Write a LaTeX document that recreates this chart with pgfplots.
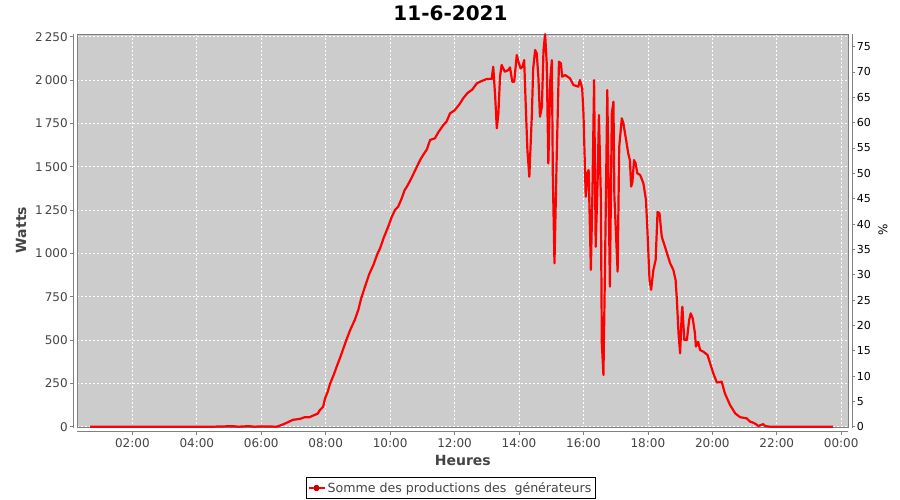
\documentclass[border=0pt]{standalone}
\usepackage{fontspec}
\setmainfont{DejaVu Sans}
\usepackage{pgfplots}
\usepackage{pgfplotstable}
\pgfplotsset{compat=1.18}
\definecolor{plotbg}{HTML}{CCCCCC}
\definecolor{axgray}{HTML}{808080}
\definecolor{lblgray}{HTML}{444444}

\pgfplotstableread{
t w
0.69 0
1.5 0
2.5 0
3.5 0
4.5 0
5.1 3
5.3 0
5.6 3
5.8 0
6.0 2
6.48 0
6.7 15
6.99 40
7.2 45
7.35 55
7.5 55
7.62 65
7.75 75
7.82 96
7.92 115
7.98 164
8.06 200
8.13 245
8.25 300
8.34 346
8.45 400
8.55 452
8.65 505
8.76 558
8.9 615
9.01 673
9.1 740
9.22 808
9.35 880
9.48 933
9.6 995
9.69 1030
9.8 1090
9.94 1154
10.05 1210
10.15 1250
10.25 1270
10.36 1318
10.45 1365
10.52 1385
10.65 1430
10.83 1500
10.95 1545
11.05 1575
11.14 1600
11.24 1654
11.39 1664
11.5 1700
11.65 1740
11.75 1760
11.86 1808
12.0 1825
12.15 1860
12.27 1895
12.4 1925
12.55 1945
12.69 1981
12.85 1995
13.0 2006
13.15 2006
13.2 2077
13.26 1904
13.31 1721
13.36 1808
13.41 2019
13.46 2087
13.56 2048
13.67 2058
13.72 2073
13.79 1990
13.85 1990
13.93 2144
13.98 2106
14.05 2067
14.11 2077
14.16 2115
14.21 1846
14.26 1596
14.32 1442
14.40 1808
14.44 2067
14.50 2173
14.55 2154
14.60 2019
14.65 1788
14.71 1846
14.76 2173
14.81 2265
14.86 2096
14.91 1519
14.97 2000
15.02 2115
15.05 1442
15.10 943
15.17 1558
15.24 2106
15.30 2096
15.34 2019
15.43 2029
15.58 2010
15.69 1971
15.84 1962
15.89 2000
15.96 1952
16.00 1808
16.07 1327
16.12 1462
16.16 1481
16.23 904
16.28 1365
16.33 2000
16.38 1038
16.44 1423
16.48 1798
16.54 1327
16.57 481
16.62 298
16.67 943
16.74 1942
16.82 808
16.88 1808
16.93 1875
16.96 1327
17.06 894
17.11 1615
17.19 1779
17.24 1750
17.34 1635
17.39 1577
17.44 1538
17.48 1385
17.52 1413
17.57 1538
17.62 1519
17.67 1462
17.76 1452
17.86 1404
17.94 1308
17.98 1154
18.05 850
18.10 790
18.17 904
18.24 962
18.30 1240
18.36 1231
18.43 1096
18.53 1038
18.69 943
18.79 904
18.86 846
18.90 731
18.95 539
19.00 423
19.05 654
19.07 692
19.13 500
19.21 500
19.28 615
19.33 654
19.39 625
19.46 539
19.49 462
19.56 490
19.62 442
19.72 433
19.85 414
19.93 366
20.03 308
20.14 255
20.29 260
20.39 192
20.55 125
20.71 77
20.86 55
21.07 48
21.17 29
21.27 23
21.35 15
21.43 4
21.58 15
21.64 4
21.79 0
22.5 0
23.0 0
23.75 0
}\prodtable

\begin{document}
\begin{tikzpicture}[x=1pt,y=1pt]
\path[use as bounding box] (0,0) rectangle (900,500);
\node[font=\bfseries\fontsize{20}{24}\selectfont] at (450.5,487) {11-6-2021};
\node[font=\bfseries\fontsize{14}{16}\selectfont, text=lblgray] at (462.8,40) {Heures};
\node[rotate=90, font=\bfseries\fontsize{14}{16}\selectfont, text=lblgray] at (21,270) {Watts};
\node[rotate=90, font=\fontsize{12}{14}\selectfont] at (883,270) {\%};

\begin{axis}[
  at={(77.3pt,72.3pt)}, anchor=south west,
  scale only axis, width=771pt, height=393.7pt,
  xmin=0.29, xmax=24.22, ymin=-5.8, ymax=2265.6,
  clip mode=individual,
  axis background/.style={fill=plotbg},
  axis line style={axgray, line width=0.8pt},
  grid=major,
  grid style={white, dash pattern=on 2pt off 2pt, line width=0.7pt},
  xtick={2,4,...,24},
  xticklabels={02:00,04:00,06:00,08:00,10:00,12:00,14:00,16:00,18:00,20:00,22:00,00:00},
  ytick={0,250,...,2250},
  yticklabels={0,250,500,750,1\,000,1\,250,1\,500,1\,750,2\,000,2\,250},
  tick pos=left,
  tick align=outside, major tick length=3pt,
  tick style={axgray, line width=0.8pt},
  xtick style={yshift=-4pt},
  ytick style={xshift=-4pt},
  xticklabel style={text=lblgray, font=\fontsize{12}{14}\selectfont, yshift=-4pt},
  yticklabel style={text=lblgray, font=\fontsize{12}{14}\selectfont, xshift=-3pt},
  legend style={at={(0.484,-0.153)}, anchor=center, draw=black, fill=white,
    font=\fontsize{12.6}{14}\selectfont, text=lblgray, inner xsep=1.5pt, inner ysep=2.8pt, row sep=0pt},
  legend cell align=left,
  legend image code/.code={
    \draw[red, line width=2pt] (0pt,0pt) -- (16pt,0pt);
    \fill[red!80!black] (6.5pt,-1.5pt) rectangle (9.5pt,1.5pt);
  },
]
\addplot[red, line width=2.2pt, line join=round] table[x=t, y=w] {\prodtable};
\addlegendentry{Somme des productions des\ \ générateurs}
\draw[axgray, line width=0.8pt] ([xshift=-4pt]rel axis cs:0,0) -- ([xshift=-4pt]rel axis cs:0,1);
\draw[axgray, line width=0.8pt] ([yshift=-4pt]rel axis cs:0,0) -- ([yshift=-4pt]rel axis cs:1,0);
\draw[axgray, line width=0.8pt] ([xshift=4pt]rel axis cs:1,0) -- ([xshift=4pt]rel axis cs:1,1);
\end{axis}

\begin{axis}[
  at={(77.3pt,72.3pt)}, anchor=south west,
  scale only axis, width=771pt, height=393.7pt,
  xmin=0.29, xmax=24.22, ymin=-0.2, ymax=77.5,
  hide x axis,
  axis y line*=right,
  axis line style={axgray, line width=0.8pt},
  ytick={0,5,...,75},
  yticklabels={0,5,10,15,20,25,30,35,40,45,50,55,60,65,70,75},
  tick align=outside, major tick length=3pt,
  tick style={axgray, line width=0.8pt},
  ytick style={xshift=4pt},
  yticklabel style={text=black, font=\fontsize{11}{13}\selectfont, xshift=2pt},
]
\end{axis}
\end{tikzpicture}
\end{document}
